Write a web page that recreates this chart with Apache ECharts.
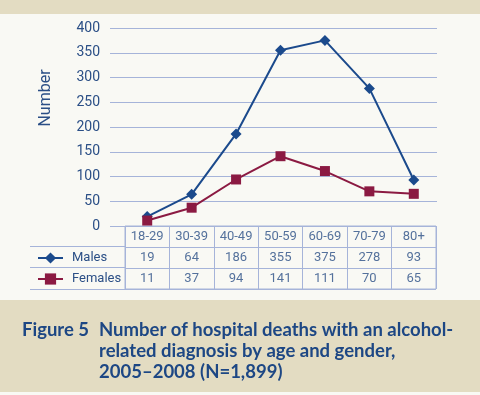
<!DOCTYPE html>
<html>
<head>
<meta charset="utf-8">
<script src="https://cdn.jsdelivr.net/npm/echarts@6/dist/echarts.min.js"></script>
<style>
html,body{margin:0;padding:0;background:#f9f9f4;}
#c{width:480px;height:395px;}
</style>
</head>
<body>
<div id="c"></div>
<script>
const ageGroups = ['18-29','30-39','40-49','50-59','60-69','70-79','80+'];
const males = [19, 64, 186, 355, 375, 278, 93];
const females = [11, 37, 94, 141, 111, 70, 65];
const yTicks = {min: 0, max: 400, interval: 50};
const rows = ['header','Males','Females'];

const BLUE = '#1b4a8c';
const MAROON = '#8b1a42';
const TXT = '#2b4f86';
const GRID = '#a6b4d9';
const FONT = 'Roboto';

const cells = [];
ageGroups.forEach((a, i) => {
  cells.push([a, 'header', a]);
  cells.push([a, 'Males', String(males[i])]);
  cells.push([a, 'Females', String(females[i])]);
});

const titleStyle = {fontFamily: 'Lato', fontWeight: 'bold', fontSize: 18.5, color: '#1d4784', lineHeight: 21};

const chart = echarts.init(document.getElementById('c'), null, {renderer: 'canvas'});
chart.setOption({
  backgroundColor: '#f9f9f4',
  animation: false,
  title: [
    {text: 'Figure 5', left: 22, top: 320, padding: 0, textStyle: titleStyle},
    {text: 'Number of hospital deaths with an alcohol-\nrelated diagnosis by age and gender,\n2005\u20132008 (N=1,899)',
     left: 99, top: 320, padding: 0, textStyle: titleStyle}
  ],
  graphic: [
    {type: 'rect', z: -10, shape: {x: 0, y: 0, width: 480, height: 14}, style: {fill: '#e3dcc2'}},
    {type: 'rect', z: -10, shape: {x: 0, y: 300, width: 480, height: 92}, style: {fill: '#e3dcc2'}},
    {type: 'text', x: 46, y: 98, rotation: Math.PI / 2,
     style: {text: 'Number', fill: TXT, font: '16px Roboto', align: 'center', verticalAlign: 'middle'}}
  ],
  legend: {
    data: ['Males', 'Females'],
    orient: 'vertical', left: 37, top: 251, padding: 0,
    itemWidth: 25, itemHeight: 14, itemGap: 7,
    textStyle: {color: TXT, fontFamily: FONT, fontSize: 13, padding: [0, 0, 0, 4], lineHeight: 14}
  },
  grid: [
    {left: 110, right: 43, top: 28, height: 198},
    {left: 125, width: 311, top: 28, height: 198},
    {left: 125, width: 311, top: 226, height: 63, show: true, borderColor: GRID, borderWidth: 1},
    {left: 30, width: 95, top: 246, height: 43}
  ],
  xAxis: [
    {gridIndex: 0, type: 'value', show: false},
    {gridIndex: 1, type: 'category', data: ageGroups, show: false},
    {gridIndex: 2, type: 'category', data: ageGroups, axisLine: {show: false}, axisTick: {show: false},
     axisLabel: {show: false}, splitLine: {show: true, lineStyle: {color: GRID, width: 1}}},
    {gridIndex: 3, type: 'value', show: false}
  ],
  yAxis: [
    {gridIndex: 0, type: 'value', min: yTicks.min, max: yTicks.max, interval: yTicks.interval,
     axisLine: {show: false}, axisTick: {show: false},
     axisLabel: {color: TXT, fontFamily: FONT, fontSize: 14, margin: 10},
     splitLine: {lineStyle: {color: GRID, width: 1}}},
    {gridIndex: 1, type: 'value', min: yTicks.min, max: yTicks.max, show: false, splitLine: {show: false}},
    {gridIndex: 2, type: 'category', data: rows, inverse: true, axisLine: {show: false}, axisTick: {show: false},
     axisLabel: {show: false}, splitLine: {show: true, lineStyle: {color: GRID, width: 1}}},
    {gridIndex: 3, type: 'category', data: ['Males','Females'], inverse: true, axisLine: {show: false}, axisTick: {show: false},
     axisLabel: {show: false}, splitLine: {show: true, lineStyle: {color: GRID, width: 1}}}
  ],
  series: [
    {name: 'Males', type: 'line', xAxisIndex: 1, yAxisIndex: 1, data: males,
     symbol: 'diamond', symbolSize: 11, lineStyle: {color: BLUE, width: 2}, itemStyle: {color: BLUE}},
    {name: 'Females', type: 'line', xAxisIndex: 1, yAxisIndex: 1, data: females,
     symbol: 'rect', symbolSize: 10, lineStyle: {color: MAROON, width: 2}, itemStyle: {color: MAROON}},
    {name: 'table', type: 'scatter', xAxisIndex: 2, yAxisIndex: 2, data: cells, symbolSize: 1,
     itemStyle: {color: 'rgba(0,0,0,0)'}, silent: true,
     label: {show: true, position: 'inside', formatter: p => p.value[2], color: TXT, fontFamily: FONT, fontSize: 13}}
  ]
});
</script>
</body>
</html>
